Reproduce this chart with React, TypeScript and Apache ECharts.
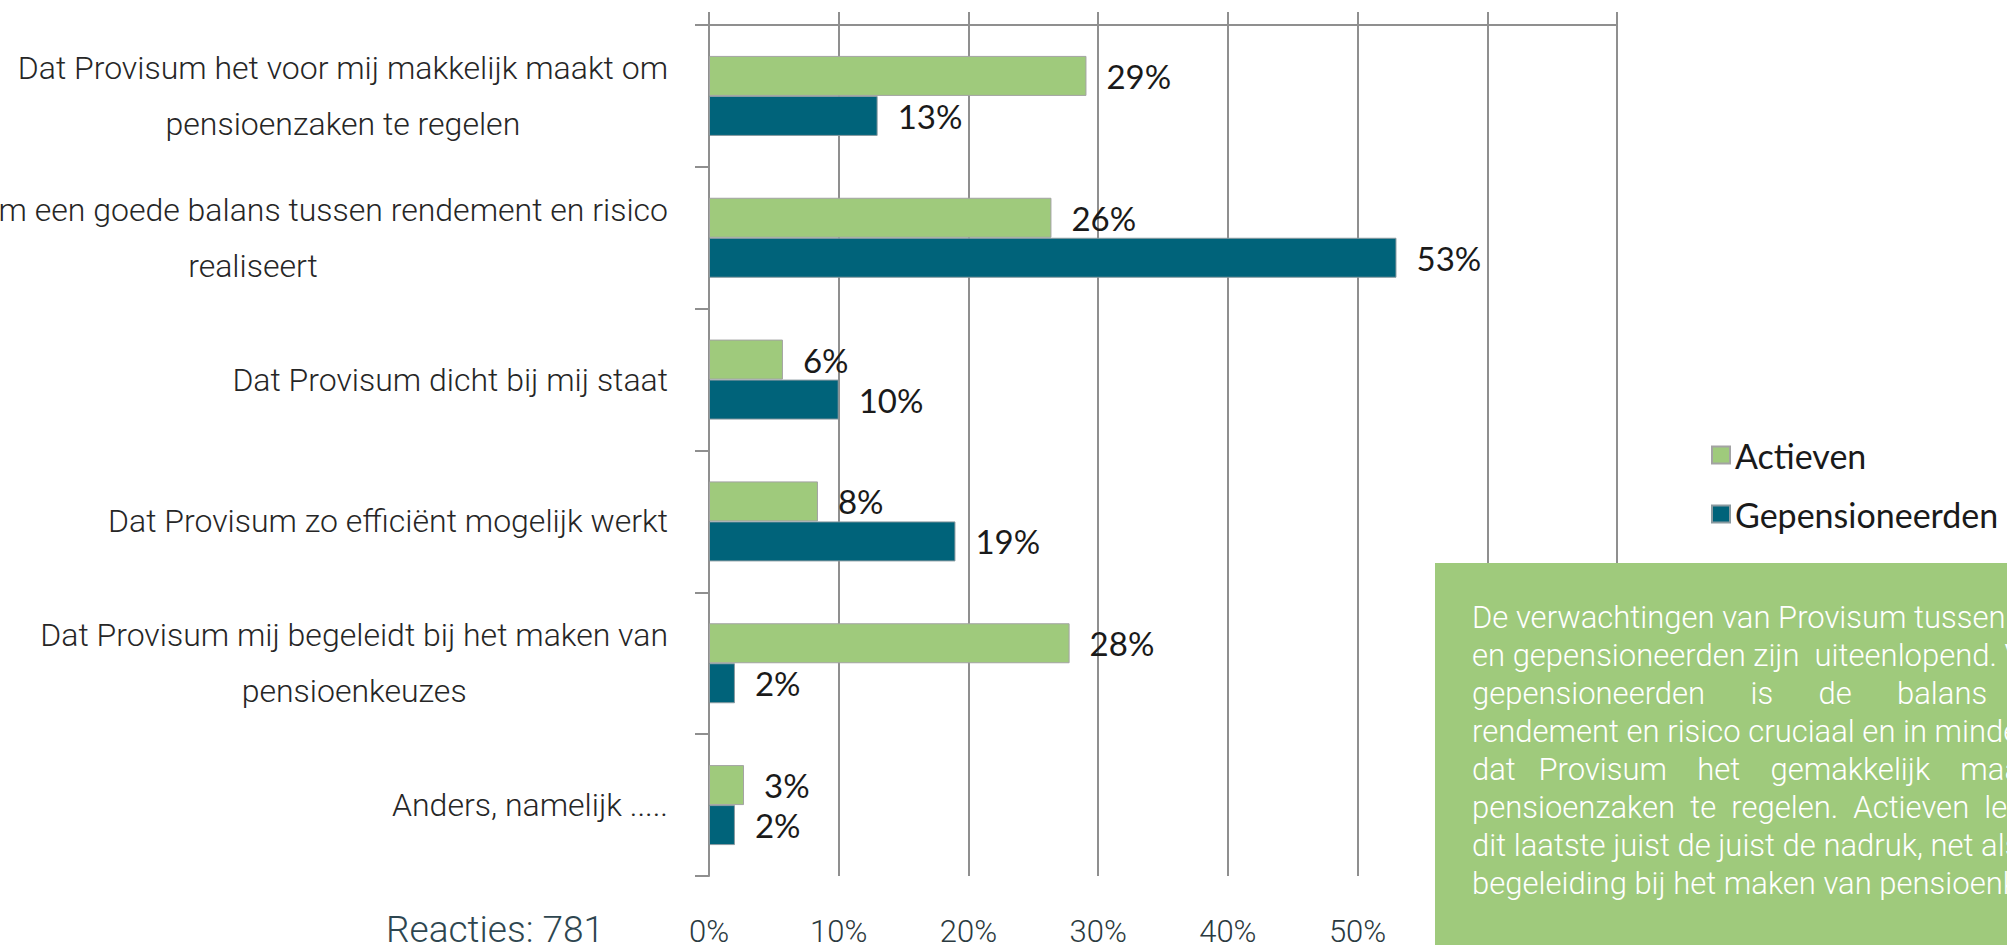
import React, { useEffect, useRef } from "react";
import * as echarts from "echarts";

const categories = [
  "Dat Provisum het voor mij makkelijk maakt om\npensioenzaken te regelen",
  "Dat Provisum een goede balans tussen rendement en risico\nrealiseert",
  "Dat Provisum dicht bij mij staat",
  "Dat Provisum zo efficiënt mogelijk werkt",
  "Dat Provisum mij begeleidt bij het maken van\npensioenkeuzes",
  "Anders, namelijk .....",
];
const actieven = [29.1, 26.4, 5.7, 8.4, 27.8, 2.7];
const gepensioneerden = [13.0, 53.0, 10.0, 19.0, 2.0, 2.0];
const xTicks = [0, 10, 20, 30, 40, 50, 60, 70];
const seriesNames = ["Actieven", "Gepensioneerden"];
const reactiesText = "Reacties: 781";
const NB = "\u00a0";
const boxLines = [
  "De verwachtingen van Provisum tussen actieven",
  "en gepensioneerden zijn " + NB + "uiteenlopend. Voor",
  "gepensioneerden" + NB.repeat(5) + " is" + NB.repeat(5) + " de" + NB.repeat(5) + " balans" + NB.repeat(5) + " tussen",
  "rendement en risico cruciaal en in mindere mate",
  "dat" + NB.repeat(2) + " Provisum" + NB.repeat(3) + " het" + NB.repeat(3) + " gemakkelijk" + NB.repeat(3) + " maakt om",
  "pensioenzaken" + NB + " te" + NB + " regelen." + NB + " Actieven" + NB + " leggen op",
  "dit laatste juist de juist de nadruk, net als op",
  "begeleiding bij het maken van pensioenkeuzes.",
];

const GREEN = "#9fca7c";
const BLUE = "#00637a";
const GRID = "#8f8f8f";

export default function App() {
  const ref = useRef<HTMLDivElement>(null);
  useEffect(() => {
    if (!ref.current) return;
    const chart = echarts.init(ref.current, undefined, { renderer: "svg" });
    const labelStyle = {
      show: true,
      position: "right" as const,
      distance: 20,
      formatter: (p: any) => Math.round(p.value) + "%",
      fontFamily: "Lato",
      fontSize: 33,
      color: "#1a1a1a",
    };
    chart.setOption({
      animation: false,
      backgroundColor: "#ffffff",
      grid: {
        left: 709,
        top: 25,
        width: 908,
        height: 851,
        containLabel: false,
        outerBoundsMode: "none",
      },
      legend: {
        orient: "vertical",
        left: 1706,
        top: 433,
        itemWidth: 18,
        itemHeight: 17,
        itemGap: 25,
        icon: "rect",
        data: seriesNames,
        textStyle: { fontFamily: "Lato", fontSize: 34, lineHeight: 34, color: "#1a1a1a" },
      },
      xAxis: [
        {
          type: "value",
          min: xTicks[0],
          max: xTicks[xTicks.length - 1],
          interval: 10,
          position: "bottom",
          axisLine: { show: false },
          axisTick: { show: false },
          splitLine: { show: true, lineStyle: { color: GRID, width: 2 } },
          axisLabel: {
            formatter: "{value}%",
            margin: 40,
            fontFamily: "Roboto",
            fontWeight: 300,
            fontSize: 31,
            lineHeight: 30,
            color: "#2b3a40",
          },
        },
        {
          type: "value",
          min: xTicks[0],
          max: xTicks[xTicks.length - 1],
          interval: 10,
          position: "top",
          axisLine: { show: true, lineStyle: { color: GRID, width: 2 } },
          axisTick: { show: true, length: 13, lineStyle: { color: GRID, width: 2 } },
          axisLabel: { show: false },
          splitLine: { show: false },
        },
      ],
      yAxis: {
        type: "category",
        inverse: true,
        data: categories,
        axisLine: { show: true, lineStyle: { color: GRID, width: 2 } },
        axisTick: { show: true, length: 14, lineStyle: { color: GRID, width: 2 } },
        axisLabel: {
          interval: 0,
          margin: 41,
          formatter: (v: string) =>
            v
              .split("\n")
              .map((l) => "{c|" + l + "}")
              .join("\n"),
          rich: {
            c: {
              align: "center",
              fontFamily: "Roboto",
              fontWeight: 300,
              fontSize: 32,
              lineHeight: 56,
              color: "#262626",
            },
          },
        },
      },
      series: [
        {
          name: seriesNames[0],
          type: "bar",
          xAxisIndex: 0,
          data: actieven,
          barWidth: 40,
          barGap: "0%",
          itemStyle: { color: GREEN, borderColor: "#a3a3a3", borderWidth: 1 },
          label: labelStyle,
        },
        {
          name: seriesNames[1],
          type: "bar",
          xAxisIndex: 0,
          data: gepensioneerden,
          barWidth: 40,
          barGap: "0%",
          itemStyle: { color: BLUE, borderColor: "#8a9aa0", borderWidth: 1 },
          label: labelStyle,
        },
      ],
      graphic: [
        {
          type: "text",
          left: 386,
          top: 931 - 20,
          z: 50,
          style: {
            text: reactiesText,
            fontFamily: "Roboto",
            fontWeight: 300,
            fontSize: 37,
            lineHeight: 36,
            fill: "#2e4650",
          },
        },
        {
          type: "rect",
          z: 100,
          shape: { x: 1435, y: 563, width: 620, height: 382 },
          style: { fill: GREEN },
        },
        {
          type: "text",
          z: 101,
          x: 1472,
          y: 598,
          style: {
            text: boxLines.join("\n"),
            fontFamily: "Roboto",
            fontWeight: 300,
            fontSize: 31,
            lineHeight: 38,
            fill: "#ffffff",
            verticalAlign: "top",
            align: "left",
          },
        },
      ],
    });
    return () => chart.dispose();
  }, []);
  return (
    <div
      ref={ref}
      style={{ position: "absolute", left: 0, top: 0, width: 2007, height: 947 }}
    />
  );
}
